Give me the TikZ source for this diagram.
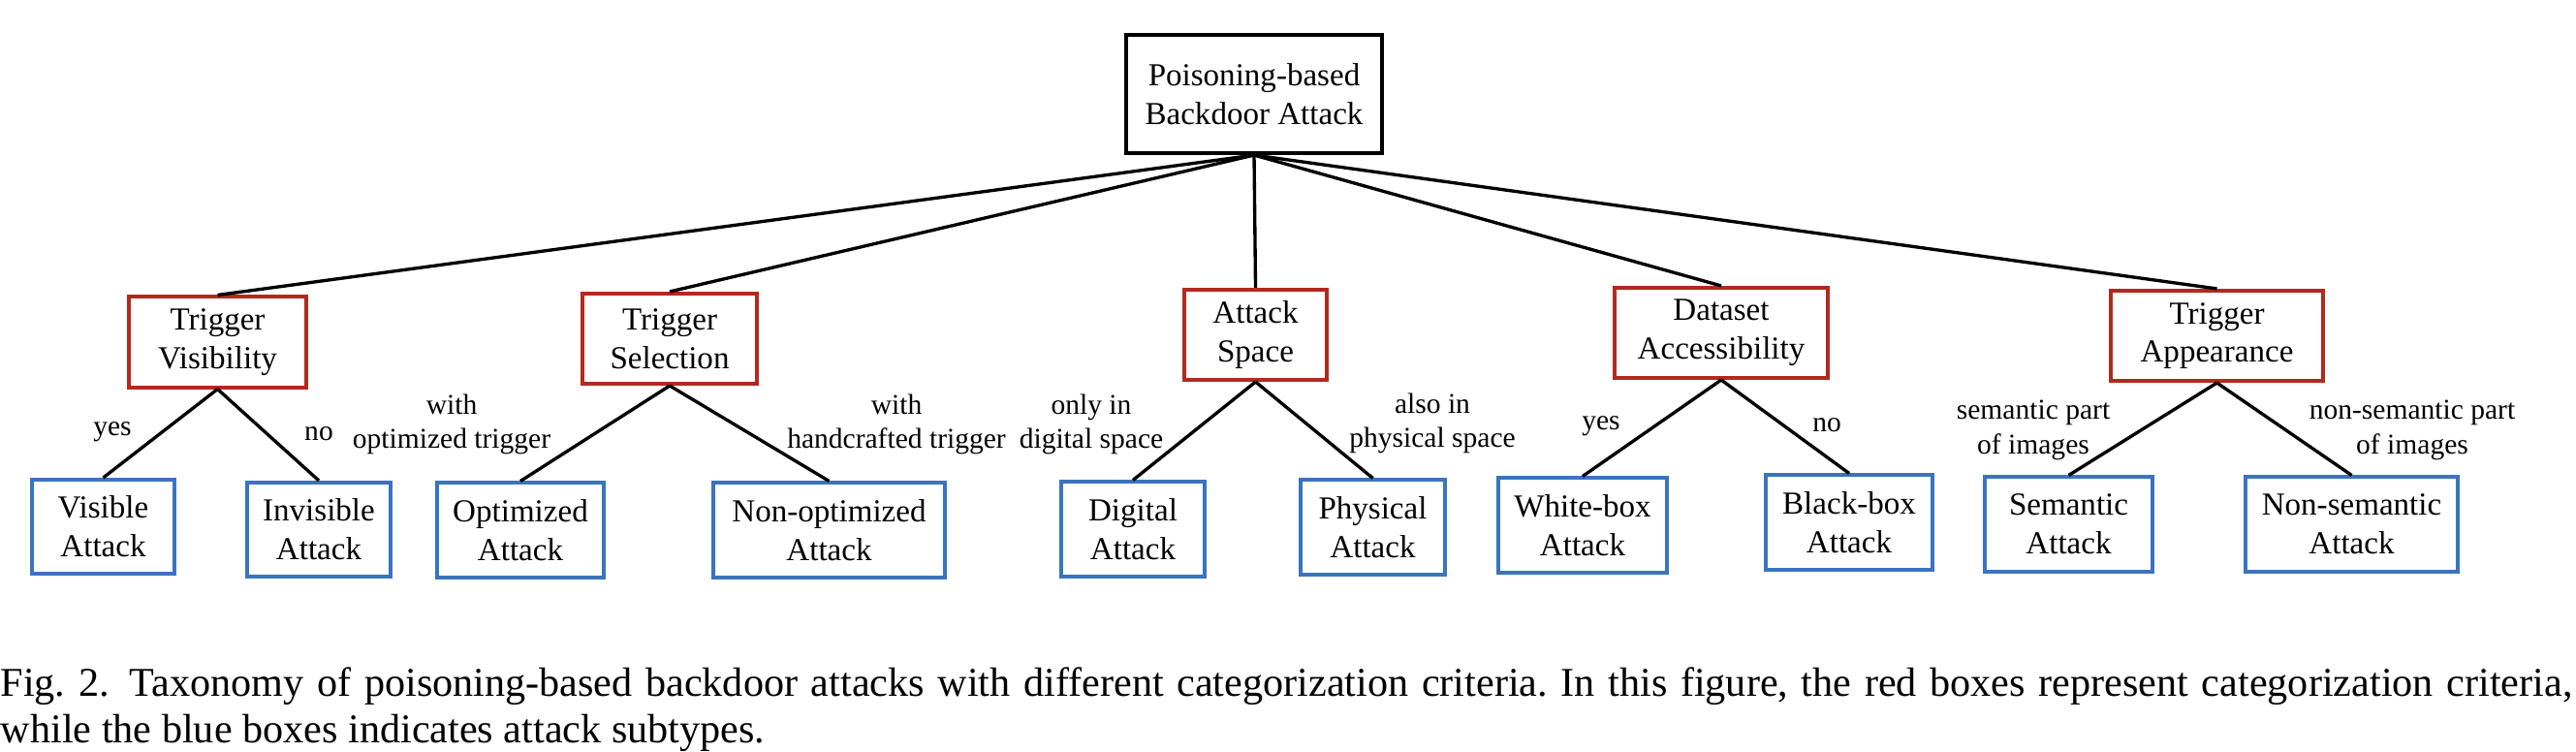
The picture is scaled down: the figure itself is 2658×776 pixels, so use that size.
\documentclass[tikz,border=0pt]{standalone}
\usepackage{fontspec}
\setmainfont{Liberation Serif}
\usepackage{xcolor}
\definecolor{critred}{RGB}{178,42,30}
\definecolor{subblue}{RGB}{58,116,190}
\frenchspacing

\begin{document}
\begin{tikzpicture}[x=0.01cm, y=-0.01cm,
  box/.style={rectangle, draw, line width=1.15pt, inner sep=0pt, align=center,
    font=\fontsize{9.4}{11.3}\selectfont, minimum height=0.93cm},
  crit/.style={box, draw=critred},
  sub/.style={box, draw=subblue, minimum height=0.97cm},
  elab/.style={font=\fontsize{8.4}{10.2}\selectfont, align=center, inner sep=0pt},
  branch/.style={line width=0.95pt}]
  \useasboundingbox (0,0) rectangle (2658,776);

  \node[box, minimum width=2.63cm, minimum height=1.22cm] (root) at (1294,97) {Poisoning-based\\Backdoor Attack};

  \node[crit, minimum width=1.82cm] (tv) at (224.5,353) {Trigger\\Visibility};
  \node[crit, minimum width=1.80cm] (ts) at (691,349.5) {Trigger\\Selection};
  \node[crit, minimum width=1.47cm] (as) at (1295.5,345.5) {Attack\\Space};
  \node[crit, minimum width=2.20cm] (da) at (1776,343.5) {Dataset\\Accessibility};
  \node[crit, minimum width=2.19cm] (ta) at (2287.5,346.5) {Trigger\\Appearance};

  \node[sub, minimum width=1.47cm] (va) at (106.5,543.5) {Visible\\Attack};
  \node[sub, minimum width=1.48cm] (ia) at (329,546.5) {Invisible\\Attack};
  \node[sub, minimum width=1.72cm] (oa) at (537,547) {Optimized\\Attack};
  \node[sub, minimum width=2.39cm] (na) at (855.5,547) {Non-optimized\\Attack};
  \node[sub, minimum width=1.48cm] (dg) at (1169,546) {Digital\\Attack};
  \node[sub, minimum width=1.49cm] (ph) at (1416.5,544) {Physical\\Attack};
  \node[sub, minimum width=1.74cm] (wb) at (1633,542) {White-box\\Attack};
  \node[sub, minimum width=1.72cm] (bb) at (1908,539) {Black-box\\Attack};
  \node[sub, minimum width=1.73cm] (se) at (2134.5,541) {Semantic\\Attack};
  \node[sub, minimum width=2.19cm] (ns) at (2426.5,541) {Non-semantic\\Attack};

  % criteria
  \draw[branch] (root.south) -- (tv.north);
  \draw[branch] (root.south) -- (ts.north);
  \draw[branch] (root.south) -- (as.north);
  \draw[branch] (root.south) -- (da.north);
  \draw[branch] (root.south) -- (ta.north);
  % subtypes
  \draw[branch] (tv.south) -- (va.north);
  \draw[branch] (tv.south) -- (ia.north);
  \draw[branch] (ts.south) -- (oa.north);
  \draw[branch] (ts.south) -- (na.north);
  \draw[branch] (as.south) -- (dg.north);
  \draw[branch] (as.south) -- (ph.north);
  \draw[branch] (da.south) -- (wb.north);
  \draw[branch] (da.south) -- (bb.north);
  \draw[branch] (ta.south) -- (se.north);
  \draw[branch] (ta.south) -- (ns.north);

  \node[elab] (lyesa) at (116,446) {yes};
  \node[elab] (lnoa) at (329,448) {no};
  \node[elab] (lopt) at (466,438) {with\\optimized trigger};
  \node[elab] (lhand) at (925,438) {with\\handcrafted trigger};
  \node[elab] (ldig) at (1126,438) {only in\\digital space};
  \node[elab] (lphy) at (1478,437) {also in\\physical space};
  \node[elab] (lyesb) at (1652,440) {yes};
  \node[elab] (lnob) at (1885,439) {no};
  \node[elab] (lsem) at (2098,444) {semantic part\\of images};
  \node[elab] (lnsem) at (2489,444) {non-semantic part\\of images};

  \node[anchor=north west, text width=26.52cm, align=justify, inner sep=0pt,
    font=\fontsize{12}{13.7}\selectfont] (caption) at (0,688)
    {Fig.~2.\enspace Taxonomy of poisoning-based backdoor attacks with different categorization criteria. In this figure, the red boxes represent categorization criteria,\linebreak while the blue boxes indicates attack subtypes.};
\end{tikzpicture}
\end{document}
